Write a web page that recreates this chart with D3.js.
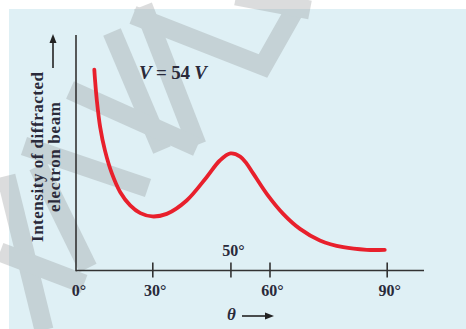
<!DOCTYPE html>
<html>
<head>
<meta charset="utf-8">
<script src="https://cdn.jsdelivr.net/npm/d3@7"></script>
<style>
  html, body { margin: 0; padding: 0; background: #fff; }
  svg { display: block; }
  text { font-family: "Liberation Serif", "DejaVu Serif", serif; fill: #2a2a3a; font-weight: bold; }
</style>
</head>
<body>
<div id="chart"></div>
<script>
// scattering angle (deg) and relative intensity
const angles = [7.2, 7.5, 8.2, 9.5, 11.4, 14.1, 17.4, 21.3, 25.3, 30, 33.7, 38.8, 43.9, 47.3, 50, 52.5, 54.2, 55.9, 59.3, 63.5, 67.8, 72.9, 78.9, 84.9, 89.5];
const intensity = [85.5, 80.9, 72.3, 61, 51, 41.3, 33.3, 27.7, 24.4, 23, 24.1, 29.8, 39.7, 46.8, 49.8, 48.5, 45.4, 41.1, 32.6, 24.1, 17.7, 12.8, 9.9, 8.8, 8.8];
const tickAngles = [30, 50, 60, 90];
const labelsBelow = [0, 30, 60, 90];
const labelsAbove = [50];

const width = 466, height = 329;

const svg = d3.select('#chart').append('svg')
  .attr('width', width)
  .attr('height', height);

// panel background
svg.append('rect')
  .attr('x', 9).attr('y', 9)
  .attr('width', width - 9).attr('height', height - 9)
  .attr('fill', '#dff0f5');

// watermark stripes (decoration only)
const stripes = [
  [[133, 15], [263, 66], [298, 4]],
  [[143, 6], [197, 145]],
  [[112, 32], [162, 150]],
  [[70, 90], [197, 147]],
  [[24, 146], [148, 188]],
  [[38, 166], [88, 268]],
  [[6, 176], [44, 330]],
  [[0, 252], [84, 284]],
  [[236, -4], [310, 10]]
];
svg.append('g')
  .attr('opacity', 0.3)
  .selectAll('path')
  .data(stripes)
  .enter().append('path')
  .attr('d', d => d3.line()(d))
  .attr('stroke', '#8a8f90')
  .attr('stroke-width', 19)
  .attr('stroke-linejoin', 'miter')
  .attr('fill', 'none');

// scales: the drawing is not to scale between 0 and 30 deg
const x = d3.scaleLinear().domain([0, 30, 90]).range([76, 152.3, 386.7]);
const y = d3.scaleLinear().domain([0, 100]).range([270.5, 35.5]);

const axisColor = '#333';

// x axis
const xAxis = svg.append('g')
  .attr('transform', `translate(0,${y(0)})`)
  .call(d3.axisBottom(x).tickValues(tickAngles).tickSizeOuter(0).tickFormat(''));
xAxis.select('.domain').remove();
xAxis.selectAll('.tick line')
  .attr('y1', -8).attr('y2', 7)
  .attr('stroke', axisColor).attr('stroke-width', 1.6);
xAxis.append('line')
  .attr('x1', x(0)).attr('x2', 424)
  .attr('stroke', axisColor).attr('stroke-width', 1.6);

// y axis
svg.append('line')
  .attr('x1', x(0)).attr('x2', x(0))
  .attr('y1', 35).attr('y2', y(0) + 0.8)
  .attr('stroke', axisColor).attr('stroke-width', 1.6);

// tick labels
svg.selectAll('.lblBelow')
  .data(labelsBelow)
  .enter().append('text')
  .attr('class', 'lblBelow')
  .attr('x', d => x(d) + 3)
  .attr('y', 296)
  .attr('text-anchor', 'middle')
  .style('font-size', '16px')
  .text(d => d + '°');

svg.selectAll('.lblAbove')
  .data(labelsAbove)
  .enter().append('text')
  .attr('class', 'lblAbove')
  .attr('x', d => x(d) + 3)
  .attr('y', 256)
  .attr('text-anchor', 'middle')
  .style('font-size', '16px')
  .text(d => d + '°');

// curve
const line = d3.line()
  .x((d, i) => x(angles[i]))
  .y(d => y(d))
  .curve(d3.curveCatmullRom.alpha(0.5));

svg.append('path')
  .datum(intensity)
  .attr('d', line)
  .attr('fill', 'none')
  .attr('stroke', '#e8202c')
  .attr('stroke-width', 3.8)
  .attr('stroke-linecap', 'round');

// annotation
const ann = svg.append('text')
  .attr('x', 139).attr('y', 79)
  .attr('textLength', 68)
  .style('font-size', '19px');
ann.append('tspan').style('font-style', 'italic').text('V');
ann.append('tspan').text(' = 54 ');
ann.append('tspan').style('font-style', 'italic').text('V');

// y label
const yl = svg.append('g').attr('transform', 'translate(0,157) rotate(-90)');
yl.append('text').attr('x', 0).attr('y', 43)
  .attr('text-anchor', 'middle').style('font-size', '17px')
  .attr('textLength', 170)
  .text('Intensity of diffracted');
yl.append('text').attr('x', 0).attr('y', 60)
  .attr('text-anchor', 'middle').style('font-size', '17px')
  .attr('textLength', 110)
  .text('electron beam');

// arrows
const arrow = (x1, y1, x2, y2) => {
  svg.append('line')
    .attr('x1', x1).attr('y1', y1).attr('x2', x2).attr('y2', y2)
    .attr('stroke', '#222').attr('stroke-width', 1.6);
};
arrow(53, 68, 53, 40);
svg.append('path').attr('d', 'M53,34 L49.5,43 L56.5,43 Z').attr('fill', '#222');

svg.append('text')
  .attr('x', 227).attr('y', 320)
  .style('font-size', '17px').style('font-style', 'italic')
  .text('θ');
arrow(242, 316, 267, 316);
svg.append('path').attr('d', 'M274,316 L265,312.5 L265,319.5 Z').attr('fill', '#222');
</script>
</body>
</html>
